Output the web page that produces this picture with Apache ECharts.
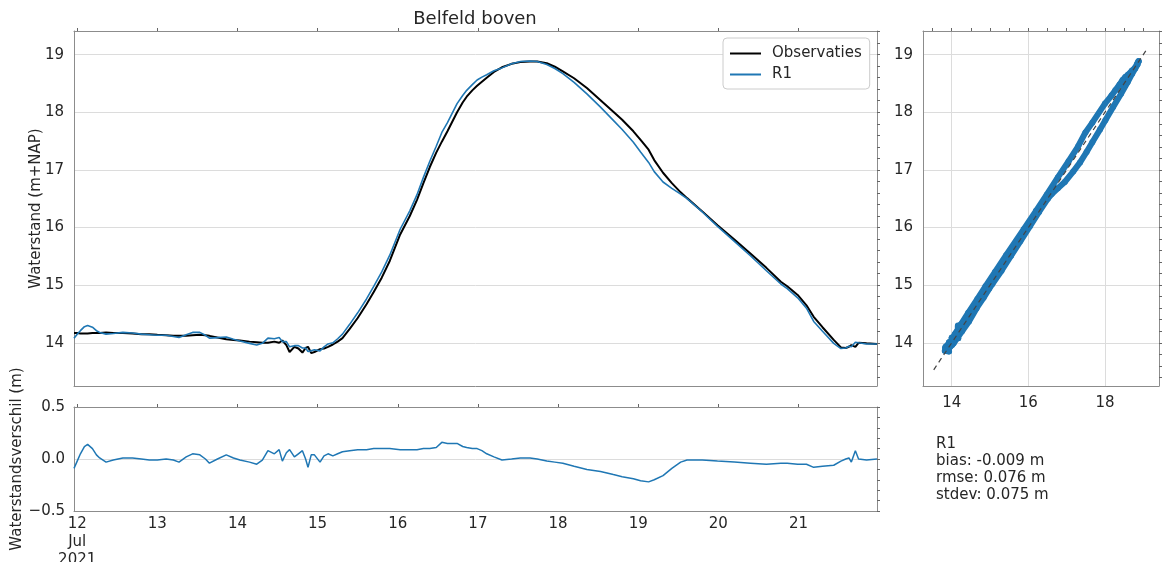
<!DOCTYPE html>
<html>
<head>
<meta charset="utf-8">
<script src="https://cdn.jsdelivr.net/npm/echarts@6/dist/echarts.min.js"></script>
<style>
  html, body { margin: 0; padding: 0; background: #ffffff; }
  #chart { width: 1165px; height: 562px; }
</style>
</head>
<body>
<div id="chart"></div>
<script>
// Time in days of July 2021 (12.5 = 12 Jul 12:00)
const days = [
  11.96, 12.00, 12.04, 12.09, 12.13, 12.19, 12.24, 12.28, 12.36, 12.45,
  12.57, 12.69, 12.80, 12.90, 13.00, 13.11, 13.20, 13.27, 13.36, 13.44,
  13.53, 13.60, 13.65, 13.75, 13.86, 13.95, 14.03, 14.15, 14.24, 14.31,
  14.38, 14.46, 14.52, 14.56, 14.61, 14.65, 14.71, 14.76, 14.81, 14.85,
  14.88, 14.92, 14.96, 15.03, 15.08, 15.13, 15.19, 15.25, 15.31, 15.40,
  15.50, 15.61, 15.70, 15.80, 15.90, 16.03, 16.15, 16.24, 16.32, 16.40,
  16.48, 16.55, 16.62, 16.74, 16.81, 16.86, 16.93, 16.99, 17.05, 17.11,
  17.20, 17.30, 17.42, 17.53, 17.65, 17.74, 17.86, 17.96, 18.06, 18.20,
  18.36, 18.53, 18.69, 18.80, 18.94, 19.03, 19.13, 19.20, 19.31, 19.42,
  19.53, 19.61, 19.80, 19.99, 20.20, 20.40, 20.60, 20.78, 20.86, 20.99,
  21.10, 21.19, 21.30, 21.44, 21.53, 21.59, 21.63, 21.66, 21.71, 21.75,
  21.85, 21.98
];

// Measured water level (m+NAP)
const observed = [
  14.17, 14.17, 14.16, 14.16, 14.16, 14.17, 14.17, 14.17, 14.18, 14.17,
  14.17, 14.16, 14.15, 14.15, 14.14, 14.13, 14.12, 14.12, 14.12, 14.13,
  14.14, 14.13, 14.12, 14.09, 14.06, 14.05, 14.04, 14.02, 14.01, 14.00,
  14.00, 14.02, 14.00, 14.04, 13.96, 13.84, 13.93, 13.90, 13.83, 13.91,
  13.93, 13.82, 13.84, 13.89, 13.90, 13.93, 13.97, 14.02, 14.08, 14.24,
  14.43, 14.67, 14.88, 15.13, 15.42, 15.88, 16.20, 16.48, 16.77, 17.05,
  17.30, 17.49, 17.67, 18.00, 18.17, 18.27, 18.38, 18.46, 18.53, 18.60,
  18.70, 18.78, 18.84, 18.87, 18.88, 18.88, 18.85, 18.79, 18.71, 18.59,
  18.42, 18.21, 18.01, 17.87, 17.67, 17.52, 17.35, 17.17, 16.95, 16.77,
  16.61, 16.51, 16.28, 16.04, 15.79, 15.55, 15.30, 15.06, 14.98, 14.83,
  14.65, 14.45, 14.27, 14.05, 13.92, 13.91, 13.93, 13.96, 13.93, 14.00,
  13.99, 13.98
];

// Model run R1 (m+NAP)
const modelR1 = [
  14.08, 14.15, 14.21, 14.28, 14.30, 14.27, 14.21, 14.18, 14.15, 14.16,
  14.18, 14.17, 14.15, 14.14, 14.13, 14.13, 14.11, 14.09, 14.14, 14.18,
  14.18, 14.13, 14.08, 14.09, 14.10, 14.06, 14.03, 13.99, 13.96, 13.99,
  14.08, 14.07, 14.09, 14.02, 14.02, 13.93, 13.95, 13.95, 13.91, 13.91,
  13.85, 13.86, 13.88, 13.86, 13.93, 13.98, 14.00, 14.07, 14.15, 14.32,
  14.52, 14.76, 14.98, 15.23, 15.52, 15.97, 16.29, 16.57, 16.87, 17.15,
  17.41, 17.65, 17.82, 18.15, 18.29, 18.38, 18.48, 18.56, 18.61, 18.65,
  18.72, 18.77, 18.84, 18.88, 18.89, 18.88, 18.83, 18.76, 18.67, 18.52,
  18.32, 18.09, 17.86, 17.70, 17.48, 17.31, 17.13, 16.97, 16.79, 16.68,
  16.58, 16.50, 16.27, 16.02, 15.76, 15.51, 15.25, 15.02, 14.94, 14.78,
  14.60, 14.37, 14.20, 13.99, 13.90, 13.91, 13.94, 13.93, 14.01, 14.00,
  13.98, 13.98
];

// Model minus measurement (m)
const difference = modelR1.map((m, i) => +(m - observed[i]).toFixed(3));

const dayTicks = [12, 13, 14, 15, 16, 17, 18, 19, 20, 21];
const levelTicks = [14, 15, 16, 17, 18, 19];
const scatterTicks = [14, 16, 18];
const timeRange = [11.96, 21.98];
const levelRange = [13.25, 19.41];
const diagonal = [13.53, 19.12];
const statsLines = ['R1', 'bias: -0.009 m', 'rmse: 0.076 m', 'stdev: 0.075 m'];

// Minor tick positions along the frame
function steps(from, to, step) {
  const out = [];
  for (let v = from; v <= to + 1e-9; v += step) out.push(+v.toFixed(3));
  return out;
}
const levelMinor = steps(13.4, 19.4, 0.2);
const diffMinor = steps(-0.5, 0.5, 0.1);
const scatterMinor = steps(13.5, 19.0, 0.5);

const FONT = 'DejaVu Sans';
const TEXT = '#262626';
const SPINE = '#8c8c8c';
const GRIDLINE = '#dcdcdc';
const BLUE = '#1f77b4';

const labelStyle = { fontSize: 15, color: TEXT, fontFamily: FONT };
const spine = { show: true, onZero: false, lineStyle: { color: SPINE, width: 1 } };
const noLabel = { show: false };

function frameAxis(extra) {
  return Object.assign({
    type: 'value',
    axisLine: spine,
    axisLabel: noLabel,
    splitLine: { show: false },
    axisTick: { show: false }
  }, extra);
}
function tickMarks(values, length) {
  return { show: true, inside: false, length: length, customValues: values,
           lineStyle: { color: '#666666', width: 1 } };
}

const chart = echarts.init(document.getElementById('chart'), null, { renderer: 'canvas' });

chart.setOption({
  animation: false,
  backgroundColor: '#ffffff',
  textStyle: { fontFamily: FONT },
  title: {
    text: 'Belfeld boven',
    left: 470, top: 5, textAlign: 'center',
    textStyle: { fontSize: 18, fontWeight: 'normal', color: TEXT, fontFamily: FONT }
  },
  legend: {
    orient: 'vertical', left: 723, top: 38,
    itemWidth: 31, itemHeight: 2, itemGap: 6,
    padding: [8, 8, 7, 7],
    borderColor: '#cccccc', borderWidth: 1, borderRadius: 4,
    backgroundColor: '#ffffff',
    textStyle: { fontSize: 15, color: TEXT, fontFamily: FONT, padding: [0, 0, 0, 6] },
    data: [{ name: 'Observaties', icon: 'rect' }, { name: 'R1', icon: 'rect' }]
  },
  grid: [
    { left: 74, top: 31, width: 803, height: 355, outerBoundsMode: 'none' },
    { left: 74, top: 407, width: 803, height: 104, outerBoundsMode: 'none' },
    { left: 923, top: 31, width: 236, height: 355, outerBoundsMode: 'none' }
  ],
  xAxis: [
    frameAxis({ gridIndex: 0, min: timeRange[0], max: timeRange[1] }),
    frameAxis({ gridIndex: 0, position: 'top', min: timeRange[0], max: timeRange[1],
                axisTick: tickMarks(dayTicks, 3) }),
    frameAxis({ gridIndex: 1, min: timeRange[0], max: timeRange[1],
                axisTick: { show: false, customValues: dayTicks },
                axisLabel: Object.assign({ show: true, customValues: dayTicks, margin: 4, lineHeight: 18,
                  formatter: v => v === 12 ? '12\nJul\n2021' : String(v) }, labelStyle) }),
    frameAxis({ gridIndex: 1, position: 'top', min: timeRange[0], max: timeRange[1],
                axisTick: tickMarks(dayTicks, 3) }),
    frameAxis({ gridIndex: 2, min: levelRange[0], max: levelRange[1],
                axisTick: { show: false, customValues: scatterTicks },
                axisLabel: Object.assign({ show: true, customValues: scatterTicks, margin: 10 }, labelStyle),
                splitLine: { show: true, lineStyle: { color: GRIDLINE, width: 1 } } }),
    frameAxis({ gridIndex: 2, position: 'top', min: levelRange[0], max: levelRange[1],
                axisTick: tickMarks(scatterMinor, 3) })
  ],
  yAxis: [
    frameAxis({ gridIndex: 0, min: levelRange[0], max: levelRange[1],
                name: 'Waterstand (m+NAP)', nameLocation: 'middle', nameGap: 30, nameMoveOverlap: false,
                nameTextStyle: labelStyle,
                axisTick: { show: false, customValues: levelTicks },
                axisLabel: Object.assign({ show: true, customValues: levelTicks, margin: 10 }, labelStyle),
                splitLine: { show: true, lineStyle: { color: GRIDLINE, width: 1 } } }),
    frameAxis({ gridIndex: 0, position: 'right', min: levelRange[0], max: levelRange[1],
                axisTick: tickMarks(levelMinor, 3) }),
    frameAxis({ gridIndex: 1, min: -0.5, max: 0.5, interval: 0.5,
                name: 'Waterstandsverschil (m)', nameLocation: 'middle', nameGap: 49, nameMoveOverlap: false,
                nameTextStyle: labelStyle,
                axisLabel: Object.assign({ show: true, margin: 9,
                  formatter: v => v.toFixed(1).replace('-', '\u2212') }, labelStyle),
                splitLine: { show: true, lineStyle: { color: GRIDLINE, width: 1 } } }),
    frameAxis({ gridIndex: 1, position: 'right', min: -0.5, max: 0.5,
                axisTick: tickMarks(diffMinor, 3) }),
    frameAxis({ gridIndex: 2, min: levelRange[0], max: levelRange[1],
                axisTick: { show: false, customValues: levelTicks },
                axisLabel: Object.assign({ show: true, customValues: levelTicks, margin: 10 }, labelStyle),
                splitLine: { show: true, lineStyle: { color: GRIDLINE, width: 1 } } }),
    frameAxis({ gridIndex: 2, position: 'right', min: levelRange[0], max: levelRange[1],
                axisTick: tickMarks(levelMinor, 3) })
  ],
  series: [
    {
      name: 'Observaties', type: 'line', xAxisIndex: 0, yAxisIndex: 0,
      data: days.map((d, i) => [d, observed[i]]),
      showSymbol: false, color: '#000000',
      lineStyle: { color: '#000000', width: 2 }, z: 2
    },
    {
      name: 'R1', type: 'line', xAxisIndex: 0, yAxisIndex: 0,
      data: days.map((d, i) => [d, modelR1[i]]),
      showSymbol: false, color: BLUE,
      lineStyle: { color: BLUE, width: 1.6 }, z: 3
    },
    {
      type: 'line', xAxisIndex: 2, yAxisIndex: 2,
      data: days.map((d, i) => [d, difference[i]]),
      showSymbol: false, color: BLUE,
      lineStyle: { color: BLUE, width: 1.5 }
    },
    {
      // measured (x) against modelled (y)
      type: 'line', xAxisIndex: 4, yAxisIndex: 4,
      data: observed.map((o, i) => [o, modelR1[i]]),
      symbol: 'circle', symbolSize: 6, showSymbol: true, color: BLUE,
      itemStyle: { color: BLUE },
      lineStyle: { color: BLUE, width: 6, cap: 'round', join: 'round' }, z: 2
    },
    {
      type: 'line', xAxisIndex: 4, yAxisIndex: 4,
      data: [[diagonal[0], diagonal[0]], [diagonal[1], diagonal[1]]],
      showSymbol: false, color: '#444444',
      lineStyle: { color: '#444444', width: 1.2, type: [5, 4] }, z: 5
    }
  ],
  graphic: [
    {
      type: 'text', left: 936, top: 436,
      style: { text: statsLines.join('\n'), font: '15px "DejaVu Sans"', fill: TEXT, lineHeight: 17 }
    }
  ]
});
</script>
</body>
</html>
